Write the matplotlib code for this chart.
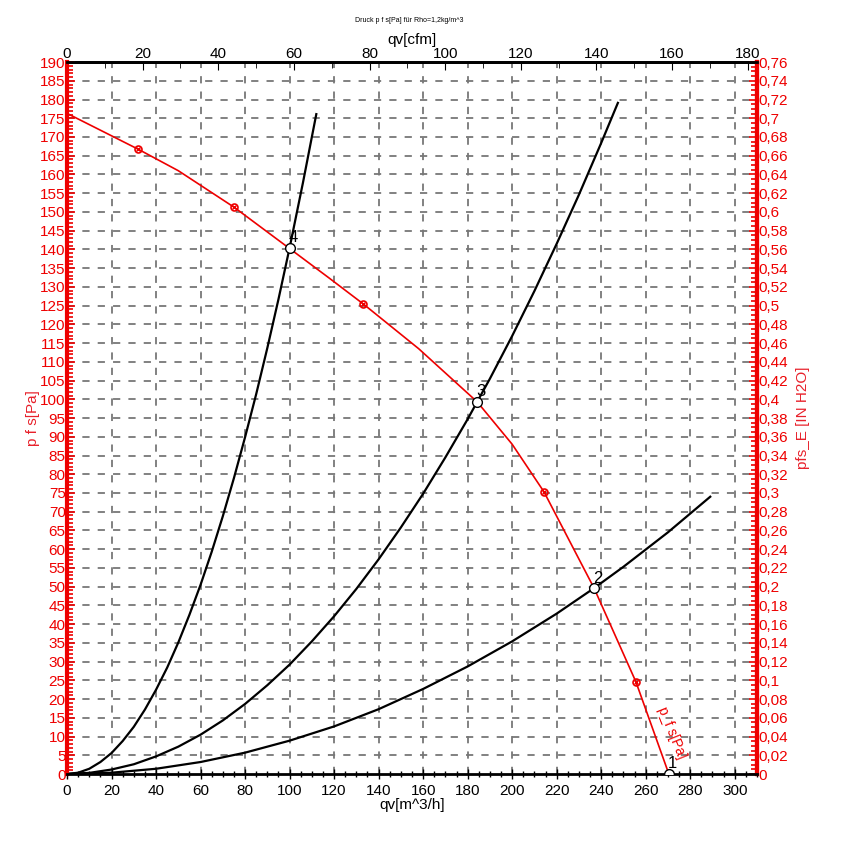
import numpy as np
import matplotlib
matplotlib.use("Agg")
import matplotlib.pyplot as plt
from matplotlib.ticker import MultipleLocator, FuncFormatter

plt.rcParams['font.family'] = ['Liberation Sans', 'DejaVu Sans']

# fan curve p_fs [Pa] over qv [m^3/h]
fan_q = [0, 32.1, 50, 75.2, 100.3, 117.9, 133.2, 158, 184.3, 200, 214.3, 236.8, 255.6, 270.4]
fan_p = [176.3, 166.7, 161.0, 151.2, 140.1, 132.3, 125.4, 113.5, 99.3, 88.0, 75.3, 49.6, 24.6, 0]

# measured points on fan curve
mark_q = [32.1, 75.2, 133.2, 214.3, 255.6]
mark_p = [166.7, 151.2, 125.4, 75.3, 24.6]

# system curves
sys4_q = [0, 5, 10, 15, 20, 25, 30, 35, 40, 45, 50, 55, 60, 65, 70, 75, 80, 85, 90, 95, 100, 106, 112]
sys4_p = [0, 0.35, 1.4, 3.2, 5.6, 8.8, 12.6, 17.2, 22.5, 28.4, 35.1, 42.5, 50.5, 59.3, 68.8, 79.0,
          89.9, 101.4, 113.7, 126.7, 140.4, 157.8, 176.1]
sys3_q = [0, 10, 20, 30, 40, 50, 60, 70, 80, 90, 100, 110, 120, 130, 140, 150, 160, 170, 180, 190,
          200, 210, 220, 230, 240, 247.5]
sys3_p = [0, 0.3, 1.2, 2.6, 4.7, 7.3, 10.5, 14.3, 18.7, 23.7, 29.2, 35.4, 42.1, 49.4, 57.3, 65.8,
          74.8, 84.5, 94.7, 105.5, 116.9, 128.9, 141.5, 154.6, 168.4, 179.1]
sys2_q = [0, 20, 40, 60, 80, 100, 120, 140, 160, 180, 200, 220, 236.8, 250, 270, 289]
sys2_p = [0, 0.35, 1.4, 3.2, 5.7, 8.9, 12.7, 17.3, 22.7, 28.7, 35.4, 42.8, 49.6, 55.3, 64.5, 74.0]

# operating points
op_labels = ['1', '2', '3', '4']
op_q = [270.4, 236.8, 184.3, 100.0]
op_p = [0, 49.6, 99.3, 140.4]

red = '#ee0000'
lab_red = '#e8202a'

fig = plt.figure(figsize=(8.41, 8.5), dpi=100)
ax = fig.add_axes([0.0797, 0.0894, 0.8204, 0.8376])
ax.set_xlim(0, 310)
ax.set_ylim(0, 190)

# grid
for v in np.arange(20, 310, 20):
    ax.axvline(v, color='#777777', lw=1.3, ls=(0, (4, 4.5)), zorder=0)
for h in np.arange(5, 190, 5):
    ax.axhline(h, color='#777777', lw=1.3, ls=(0, (4, 4.5)), zorder=0)

ax.plot(sys4_q, sys4_p, color='black', lw=1.6, zorder=2)
ax.plot(sys3_q, sys3_p, color='black', lw=1.6, zorder=2)
ax.plot(sys2_q, sys2_p, color='black', lw=1.6, zorder=2)
ax.plot(fan_q, fan_p, color=red, lw=1.2, zorder=3)
ax.plot(mark_q, mark_p, 'o', ms=5, mfc='none', mec=red, mew=1.2, zorder=4)
ax.plot(mark_q, mark_p, 'x', ms=3, color=red, mew=1, zorder=4)
ax.plot(op_q, op_p, 'o', ms=7, mfc='white', mec='black', mew=1.0, zorder=5)
for lab, q, p in zip(op_labels, op_q, op_p):
    ax.annotate(lab, (q, p), xytext=(-1, 4), textcoords='offset points',
                fontsize=12, color='black', zorder=6)

ax.text(271.5, 11, 'p_f s[Pa]', color=red, fontsize=10, rotation=-68,
        ha='center', va='center', rotation_mode='anchor')

# bottom axis
ax.xaxis.set_major_locator(MultipleLocator(20))
ax.xaxis.set_minor_locator(MultipleLocator(5))
ax.tick_params(axis='x', which='both', direction='inout', labelsize=11, colors='black')
ax.tick_params(axis='x', which='major', length=7, width=1)
ax.tick_params(axis='x', which='minor', length=5, width=1)
ax.set_xlabel('qv[m^3/h]', fontsize=11, labelpad=0)

# left axis
ax.yaxis.set_major_locator(MultipleLocator(5))
ax.yaxis.set_minor_locator(MultipleLocator(1))
ax.tick_params(axis='y', which='both', direction='in', colors=red, labelsize=11, pad=1)
ax.tick_params(axis='y', which='major', length=6, width=1.2)
ax.tick_params(axis='y', which='minor', length=4, width=1.2)
ax.set_ylabel('p f s[Pa]', color=lab_red, fontsize=11, labelpad=0)

for s in ['top', 'bottom']:
    ax.spines[s].set_linewidth(2)
    ax.spines[s].set_color('black')
for s in ['left', 'right']:
    ax.spines[s].set_linewidth(3)
    ax.spines[s].set_color(red)

# top axis cfm
top = ax.secondary_xaxis('top', functions=(lambda q: q / 1.699, lambda c: c * 1.699))
top.xaxis.set_major_locator(MultipleLocator(20))
top.xaxis.set_minor_locator(MultipleLocator(10))
top.tick_params(which='both', direction='in', labelsize=11, pad=1)
top.tick_params(which='major', length=6)
top.tick_params(which='minor', length=4)
top.spines['top'].set_linewidth(2)
top.set_xlabel('qv[cfm]', fontsize=11, labelpad=2)

# right axis in H2O
right = ax.secondary_yaxis('right', functions=(lambda p: p * 0.004, lambda w: w / 0.004))
right.yaxis.set_major_locator(MultipleLocator(0.02))
right.yaxis.set_minor_locator(MultipleLocator(0.005))


def comma_fmt(v, pos):
    s = ('%.2f' % v).rstrip('0').rstrip('.')
    return s.replace('.', ',')


right.yaxis.set_major_formatter(FuncFormatter(comma_fmt))
right.tick_params(which='both', direction='in', colors=red, labelsize=11, pad=1)
right.tick_params(which='major', length=6, width=1.2)
right.tick_params(which='minor', length=4, width=1.2)
right.spines['right'].set_linewidth(3)
right.spines['right'].set_color(red)
right.set_ylabel('pfs_E [IN H2O]', color=lab_red, fontsize=11, labelpad=6)

fig.text(0.487, 0.976, 'Druck p f s[Pa] für Rho=1,2kg/m^3', fontsize=5, ha='center', va='center')

fig.savefig('out.png', dpi=100)
